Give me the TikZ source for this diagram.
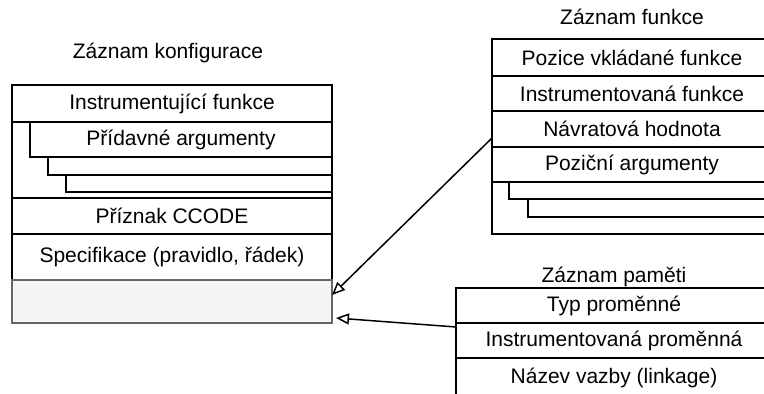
\documentclass[tikz,border=0pt]{standalone}
\usepackage{fontspec}
\setmainfont{Liberation Sans}
\usetikzlibrary{arrows.meta}
\begin{document}
\begin{tikzpicture}[x=1pt, y=-1pt, line width=1.5pt,
  txt/.style={font=\fontsize{21}{25}\selectfont, text=black},
  row/.style={txt, draw=black, rectangle, inner sep=0pt, outer sep=0pt, anchor=north west},
  graybox/.style={draw=black!60, fill=black!4, rectangle, inner sep=0pt, outer sep=0pt, anchor=north west},
  title/.style={txt, anchor=base, inner sep=0pt},
  conn/.style={draw=black, -{Triangle[open, length=13pt, width=11pt]}}]
\useasboundingbox (0,0) rectangle (764,394);
\clip (0,0) rectangle (764,394);

% configuration record
\node[title] (tcfg) at (168,58) {Záznam konfigurace};
\node[row, minimum width=320, minimum height=37] (ins) at (12,85) {Instrumentující funkce};
\node[row, minimum width=320, minimum height=76] (argframe) at (12,122) {};
\node[row, minimum width=302, minimum height=35] (padd) at (30,122) {Přídavné argumenty};
\node[row, minimum width=284, minimum height=18] (padd2) at (48,157) {};
\node[row, minimum width=266, minimum height=17] (padd3) at (66,175) {};
\node[row, minimum width=320, minimum height=36] (ccode) at (12,198) {Příznak CCODE};
\node[row, minimum width=320, minimum height=46] (spec) at (12,234) {Specifikace (pravidlo, řádek)};
\node[graybox, minimum width=320, minimum height=43] (gray) at (12,280) {};

% function record
\node[title] (tfn) at (632,24) {Záznam funkce};
\node[row, minimum width=280, minimum height=37] (poz) at (492,39) {Pozice vkládané funkce};
\node[row, minimum width=280, minimum height=35] (ifn) at (492,76) {Instrumentovaná funkce};
\node[row, minimum width=280, minimum height=36] (ret) at (492,111) {Návratová hodnota};
\node[row, minimum width=280, minimum height=35] (pargs) at (492,147) {Poziční argumenty};
\node[row, minimum width=280, minimum height=52] (fframe) at (492,182) {};
\node[row, minimum width=263, minimum height=17] (pa1) at (509,182) {};
\node[row, minimum width=244, minimum height=18] (pa2) at (528,199) {};

% memory record
\node[title] (tmem) at (614,282) {Záznam paměti};
\node[row, minimum width=316, minimum height=35] (typ) at (456,288) {Typ proměnné};
\node[row, minimum width=316, minimum height=35] (ivar) at (456,323) {Instrumentovaná proměnná};
\node[row, minimum width=316, minimum height=40] (link) at (456,358) {Název vazby (linkage)};

% connectors
\draw[conn] ([yshift=-9pt]ret.west) -- ([yshift=6.5pt]gray.east);
\draw[conn] ([yshift=-4pt]typ.south west) -- ([xshift=4pt, yshift=-16.5pt]gray.east);
\end{tikzpicture}
\end{document}
